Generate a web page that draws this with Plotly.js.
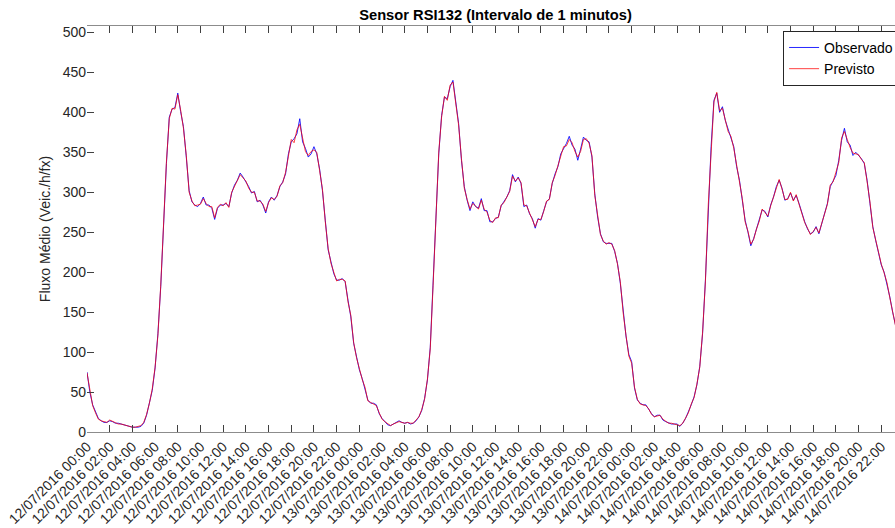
<!DOCTYPE html>
<html>
<head>
<meta charset="utf-8">
<script src="https://cdn.plot.ly/plotly-3.0.1.min.js"></script>
<style>
html, body { margin: 0; padding: 0; overflow: hidden; background: #fff; width: 895px; height: 528px; }
#chart { width: 904px; height: 528px; }
</style>
</head>
<body>
<div id="chart"></div>
<script>
// Data: 15-minute samples, starting 12/07/2016 00:00
const startTime = '2016-07-12 00:00:00';
const stepMs = 15 * 60 * 1000;

const observadoDia12 = [
  75, 50, 34, 25, 17, 14, 12, 12, 14, 13, 11, 11, 10, 9, 8, 7,
  6, 6, 6, 7, 11, 21, 37, 52, 80, 123, 182, 261, 336, 394, 404, 406,
  424, 401, 382, 344, 302, 288, 284, 282, 286, 294, 284, 284, 280, 266, 280, 284,
  284, 286, 282, 299, 309, 315, 324, 319, 313, 307, 299, 301, 288, 290, 284, 274,
  288, 294, 290, 296, 307, 313, 323, 348, 363, 367, 373, 392, 363, 355, 344, 348,
  357, 348, 329, 302, 265, 228, 213, 198, 190, 190, 192, 188, 165, 144, 111, 94
];
const observadoDia13 = [
  78, 67, 55, 40, 36, 36, 34, 23, 17, 13, 9, 8, 10, 11, 14, 12,
  11, 12, 10, 11, 14, 19, 27, 42, 65, 106, 181, 273, 348, 396, 419, 417,
  432, 440, 411, 386, 340, 307, 290, 277, 288, 282, 280, 292, 277, 277, 263, 263,
  267, 269, 283, 288, 294, 302, 322, 313, 319, 311, 282, 284, 273, 267, 255, 267,
  265, 277, 288, 292, 311, 323, 332, 348, 354, 361, 370, 359, 354, 340, 354, 369,
  365, 363, 344, 298, 269, 248, 238, 236, 236, 236, 226, 211, 186, 150, 120, 97
];
const observadoDia14 = [
  88, 55, 40, 36, 34, 34, 28, 23, 19, 21, 21, 15, 13, 11, 10, 10,
  10, 7, 11, 17, 25, 34, 44, 59, 82, 123, 190, 282, 357, 415, 424, 400,
  407, 390, 378, 369, 357, 332, 315, 290, 265, 250, 233, 242, 253, 265, 278, 276,
  269, 284, 294, 307, 315, 305, 290, 292, 299, 290, 296, 286, 273, 263, 254, 248,
  250, 257, 248, 261, 273, 286, 307, 315, 321, 340, 365, 380, 363, 359, 346, 350,
  346, 342, 336, 315, 286, 257, 240, 223, 209, 200, 186, 169, 150, 134
];

const previstoDia12 = [
  74, 51, 33, 24, 16, 14, 13, 12, 15, 13, 11, 10, 10, 9, 8, 7,
  6, 6, 7, 8, 12, 22, 36, 54, 81, 121, 184, 259, 338, 392, 405, 404,
  422, 403, 380, 346, 300, 289, 283, 284, 285, 292, 286, 282, 282, 268, 281, 285,
  283, 287, 281, 300, 307, 316, 322, 318, 314, 305, 300, 300, 289, 289, 285, 276,
  287, 293, 291, 295, 308, 312, 325, 345, 366, 362, 378, 385, 368, 351, 346, 351,
  353, 350, 327, 304, 263, 230, 211, 199, 189, 191, 191, 189, 163, 146, 112, 93
];
const previstoDia13 = [
  79, 66, 56, 39, 37, 35, 33, 24, 16, 13, 10, 8, 10, 12, 13, 12,
  11, 12, 11, 11, 15, 19, 28, 41, 66, 104, 183, 271, 350, 394, 420, 415,
  434, 438, 413, 384, 342, 305, 291, 279, 286, 283, 279, 290, 279, 275, 265, 262,
  268, 268, 284, 287, 295, 301, 320, 314, 318, 312, 284, 283, 274, 266, 257, 266,
  266, 276, 289, 291, 312, 321, 334, 346, 357, 358, 366, 362, 351, 344, 351, 366,
  367, 361, 346, 296, 271, 247, 239, 235, 237, 235, 227, 210, 188, 149, 121, 95
];
const previstoDia14 = [
  86, 56, 41, 35, 34, 33, 29, 22, 19, 20, 21, 16, 13, 11, 11, 10,
  9, 8, 11, 18, 24, 35, 43, 60, 81, 125, 188, 284, 355, 413, 425, 402,
  405, 392, 376, 370, 355, 334, 313, 292, 263, 251, 235, 241, 254, 264, 279, 275,
  270, 283, 295, 306, 316, 304, 291, 291, 300, 289, 297, 285, 274, 262, 255, 247,
  251, 256, 249, 260, 274, 285, 309, 313, 325, 337, 368, 376, 366, 356, 349, 348,
  347, 341, 337, 313, 288, 256, 241, 222, 210, 199, 187, 168, 152, 133
];

const observado = observadoDia12.concat(observadoDia13, observadoDia14);
const previsto = previstoDia12.concat(previstoDia13, previstoDia14);

const tickFont = { family: 'Liberation Sans, Arial, sans-serif', size: 14, color: '#262626' };

const traces = [
  {
    type: 'scatter', mode: 'lines', name: 'Observado',
    x0: startTime, dx: stepMs, y: observado,
    line: { color: 'rgba(0,0,255,0.85)', width: 1 }
  },
  {
    type: 'scatter', mode: 'lines', name: 'Previsto',
    x0: startTime, dx: stepMs, y: previsto,
    line: { color: 'rgba(255,0,0,0.75)', width: 1 }
  }
];

const layout = {
  width: 904, height: 528,
  margin: { l: 87, r: 0, t: 26, b: 96 },
  paper_bgcolor: '#fff', plot_bgcolor: '#fff',
  font: { family: 'Liberation Sans, Arial, sans-serif', size: 14, color: '#262626' },
  title: {
    text: '<b>Sensor RSI132 (Intervalo de 1 minutos)</b>',
    font: { family: 'Liberation Sans, Arial, sans-serif', size: 14.7, color: '#000' },
    xref: 'paper', x: 0.5, xanchor: 'center',
    yref: 'container', y: 0.972, yanchor: 'middle'
  },
  showlegend: true,
  legend: {
    x: 0.852, xanchor: 'left', y: 0.988, yanchor: 'top',
    bgcolor: '#fff', bordercolor: '#262626', borderwidth: 1,
    font: { family: 'Liberation Sans, Arial, sans-serif', size: 14, color: '#000' },
    tracegroupgap: 0
  },
  xaxis: {
    type: 'date',
    range: ['2016-07-12 00:00:00', '2016-07-15 00:00:00'],
    tick0: '2016-07-12 00:00:00', dtick: 2 * 60 * 60 * 1000,
    tickformat: '%d/%m/%Y %H:%M',
    tickangle: -45,
    tickfont: tickFont,
    ticks: 'inside', ticklen: 7, tickcolor: '#404040', tickwidth: 1,
    showline: true, linecolor: '#8c8c8c', linewidth: 1, mirror: 'ticks',
    showgrid: false, zeroline: false
  },
  yaxis: {
    range: [0, 508],
    tickvals: [0, 50, 100, 150, 200, 250, 300, 350, 400, 450, 500],
    tickfont: tickFont,
    ticks: 'inside', ticklen: 7, tickcolor: '#404040', tickwidth: 1,
    showline: false, showgrid: false, zeroline: false,
    title: { text: 'Fluxo Médio (Veic./h/fx)', font: { family: 'Liberation Sans, Arial, sans-serif', size: 14, color: '#262626' }, standoff: 8 }
  }
};

Plotly.newPlot('chart', traces, layout, { displayModeBar: false, staticPlot: true });
</script>
</body>
</html>
